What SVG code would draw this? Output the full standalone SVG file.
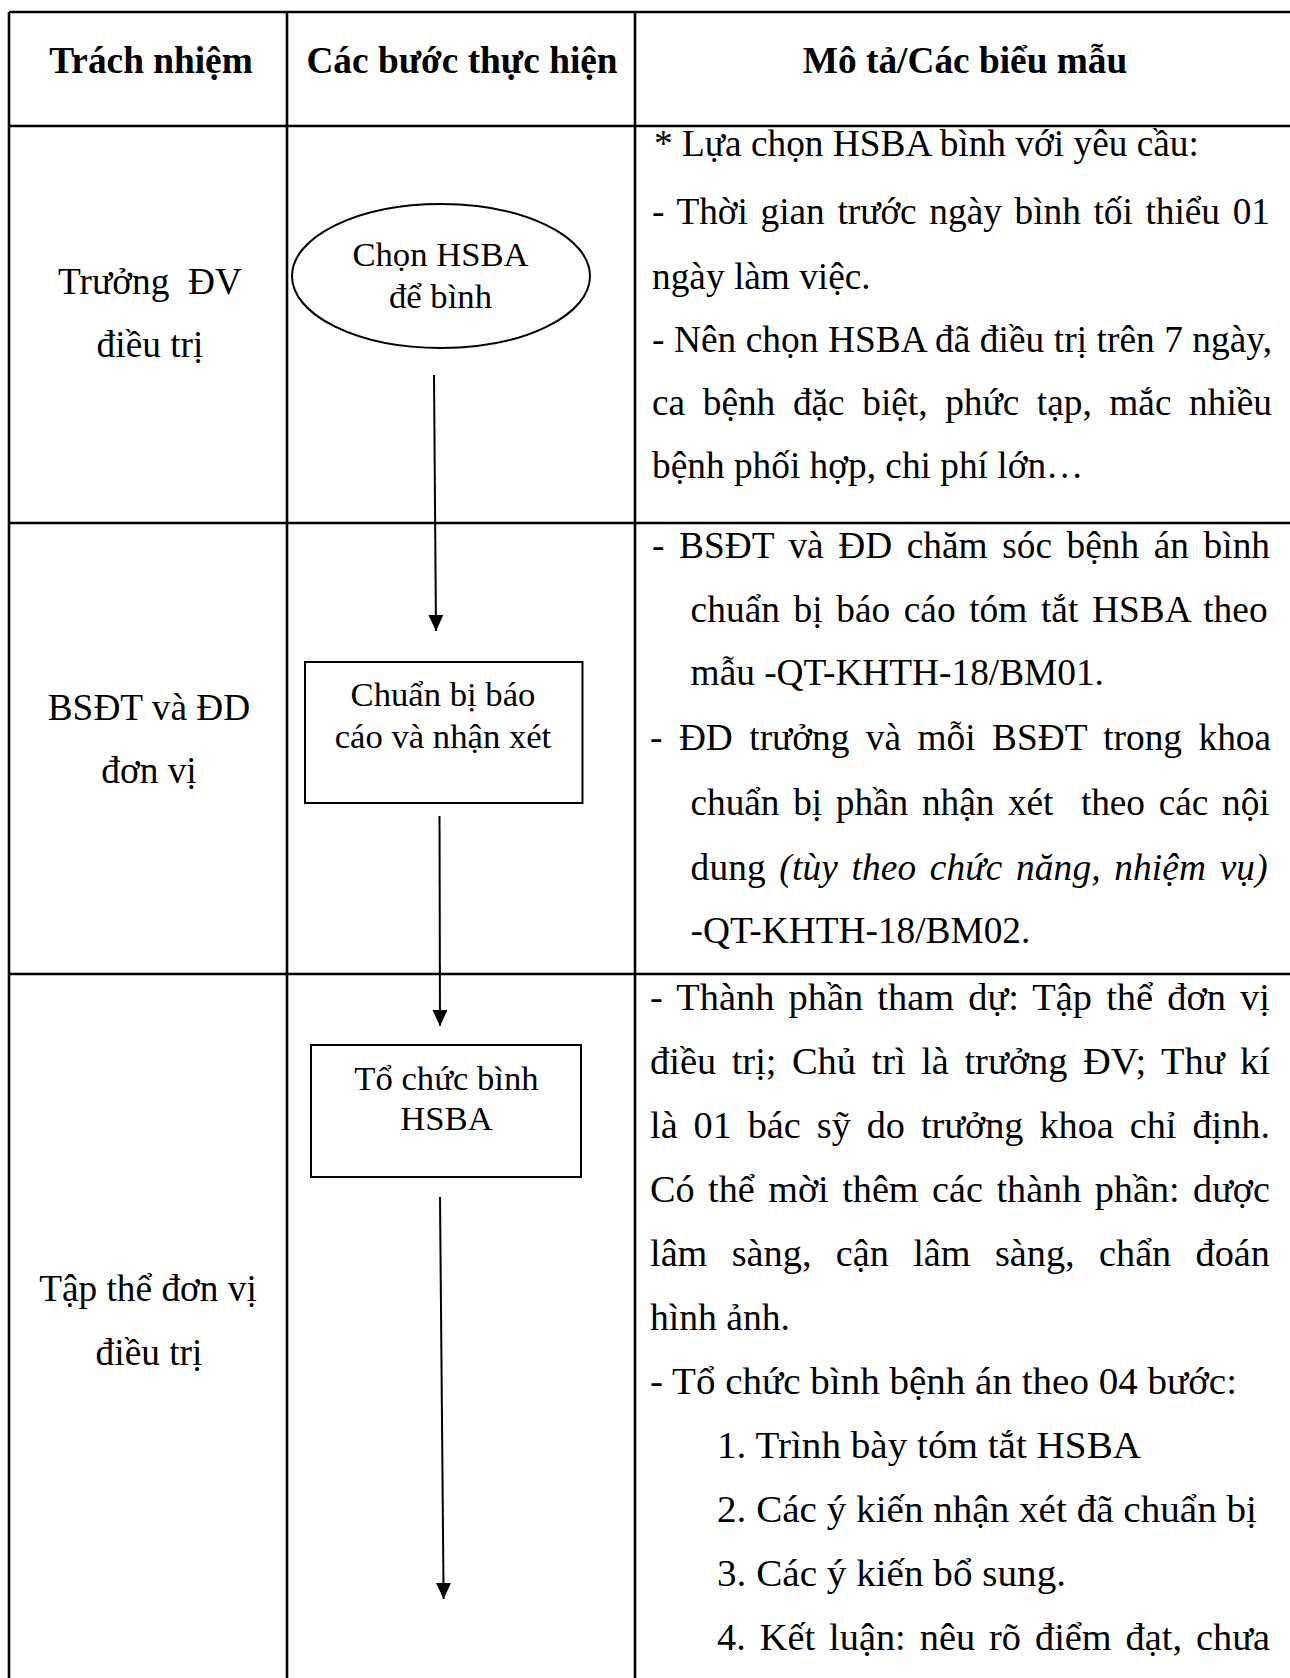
<svg xmlns="http://www.w3.org/2000/svg" width="1290" height="1678" viewBox="0 0 1290 1678">
<style>
  .grid{stroke:#000;stroke-width:2.6;fill:none}
  .node{stroke:#000;stroke-width:2;fill:#fff}
  .conn{stroke:#000;stroke-width:2;fill:none}
  text{font-family:"Liberation Serif","Times New Roman",serif;fill:#000}
  .hd{font-size:37.33px;font-weight:bold;text-anchor:middle}
  .lc{font-size:37.33px;text-anchor:middle}
  .nd{font-size:34.67px;text-anchor:middle}
  .bd{font-size:37.33px}
</style>
<defs>
  <marker id="ah" markerUnits="userSpaceOnUse" markerWidth="17" markerHeight="16" refX="16" refY="7.5" orient="auto">
    <path d="M0,0 L16,7.5 L0,15 z" fill="#000"/>
  </marker>
</defs>
<rect width="1290" height="1678" fill="#fff"/>
<g id="table">
  <line class="grid" x1="9" y1="12" x2="1290" y2="12"/>
  <line class="grid" x1="9" y1="126" x2="1290" y2="126"/>
  <line class="grid" x1="9" y1="523" x2="1290" y2="523"/>
  <line class="grid" x1="9" y1="974" x2="1290" y2="974"/>
  <line class="grid" x1="9" y1="12" x2="9" y2="1678"/>
  <line class="grid" x1="287" y1="12" x2="287" y2="1678"/>
  <line class="grid" x1="635" y1="12" x2="635" y2="1678"/>
</g>
<g id="header">
  <text class="hd" x="151" y="73">Trách nhiệm</text>
  <text class="hd" x="462" y="73">Các bước thực hiện</text>
  <text class="hd" x="965" y="73">Mô tả/Các biểu mẫu</text>
</g>
<g id="responsibility">
  <text class="lc" x="150" y="294" xml:space="preserve">Trưởng  ĐV</text>
  <text class="lc" x="150" y="357">điều trị</text>
  <text class="lc" x="149" y="720">BSĐT và ĐD</text>
  <text class="lc" x="149" y="783">đơn vị</text>
  <text class="lc" x="148" y="1301">Tập thể đơn vị</text>
  <text class="lc" x="149" y="1365">điều trị</text>
</g>
<g id="connectors">
  <line class="conn" x1="434" y1="375" x2="436" y2="631" marker-end="url(#ah)"/>
  <line class="conn" x1="439.5" y1="816" x2="440" y2="1026" marker-end="url(#ah)"/>
  <line class="conn" x1="440" y1="1197" x2="443.6" y2="1599" marker-end="url(#ah)"/>
</g>
<g id="node-chon">
  <ellipse class="node" cx="441" cy="276" rx="149" ry="72"/>
  <text class="nd" x="440.5" y="266">Chọn HSBA</text>
  <text class="nd" x="440.5" y="308">để bình</text>
</g>
<g id="node-chuanbi">
  <rect class="node" x="305" y="662" width="277.5" height="141"/>
  <text class="nd" x="443" y="706">Chuẩn bị báo</text>
  <text class="nd" x="443" y="748">cáo và nhận xét</text>
</g>
<g id="node-tochuc">
  <rect class="node" x="311" y="1045" width="270" height="132"/>
  <text class="nd" x="446.5" y="1090">Tổ chức bình</text>
  <text class="nd" x="446.5" y="1130">HSBA</text>
</g>
<g id="desc1">
  <text class="bd" x="654" y="156">* Lựa chọn HSBA bình với yêu cầu:</text>
  <text class="bd" x="652" y="224" word-spacing="3.4" textLength="618" lengthAdjust="spacing">- Thời gian trước ngày bình tối thiểu 01</text>
  <text class="bd" x="652" y="289">ngày làm việc.</text>
  <text class="bd" x="652" y="352" textLength="620" lengthAdjust="spacing">- Nên chọn HSBA đã điều trị trên 7 ngày,</text>
  <text class="bd" x="652" y="415" word-spacing="8.3" textLength="620" lengthAdjust="spacing">ca bệnh đặc biệt, phức tạp, mắc nhiều</text>
  <text class="bd" x="652" y="478">bệnh phối hợp, chi phí lớn…</text>
</g>
<g id="desc2">
  <text class="bd" x="652" y="558" word-spacing="5.2" textLength="618" lengthAdjust="spacing">- BSĐT và ĐD chăm sóc bệnh án bình</text>
  <text class="bd" x="690.6" y="622" word-spacing="4.1" textLength="577" lengthAdjust="spacing">chuẩn bị báo cáo tóm tắt HSBA theo</text>
  <text class="bd" x="690.6" y="685">mẫu -QT-KHTH-18/BM01.</text>
  <text class="bd" x="650" y="750" word-spacing="7.2" textLength="621" lengthAdjust="spacing">- ĐD trưởng và mỗi BSĐT trong khoa</text>
  <text class="bd" x="690.6" y="815" word-spacing="4.5" textLength="579" lengthAdjust="spacing" xml:space="preserve">chuẩn bị phần nhận xét  theo các nội</text>
  <text class="bd" x="690.6" y="880" word-spacing="4" textLength="577" lengthAdjust="spacing">dung <tspan font-style="italic">(tùy theo chức năng, nhiệm vụ)</tspan></text>
  <text class="bd" x="690.6" y="943">-QT-KHTH-18/BM02.</text>
</g>
<g id="desc3">
  <text class="bd" x="650" y="1010" word-spacing="4.4" textLength="620" lengthAdjust="spacingAndGlyphs">- Thành phần tham dự: Tập thể đơn vị</text>
  <text class="bd" x="650" y="1074" word-spacing="5.7" textLength="620" lengthAdjust="spacingAndGlyphs">điều trị; Chủ trì là trưởng ĐV; Thư kí</text>
  <text class="bd" x="650" y="1138" word-spacing="6.2" textLength="620" lengthAdjust="spacingAndGlyphs">là 01 bác sỹ do trưởng khoa chỉ định.</text>
  <text class="bd" x="650" y="1202" word-spacing="3.9" textLength="620" lengthAdjust="spacingAndGlyphs">Có thể mời thêm các thành phần: dược</text>
  <text class="bd" x="650" y="1266" word-spacing="14.4" textLength="620" lengthAdjust="spacingAndGlyphs">lâm sàng, cận lâm sàng, chẩn đoán</text>
  <text class="bd" x="650" y="1330" textLength="140" lengthAdjust="spacingAndGlyphs">hình ảnh.</text>
  <text class="bd" x="650" y="1394" textLength="587" lengthAdjust="spacingAndGlyphs">- Tổ chức bình bệnh án theo 04 bước:</text>
  <text class="bd" x="717" y="1458" textLength="424" lengthAdjust="spacingAndGlyphs">1. Trình bày tóm tắt HSBA</text>
  <text class="bd" x="717" y="1522" textLength="540" lengthAdjust="spacingAndGlyphs">2. Các ý kiến nhận xét đã chuẩn bị</text>
  <text class="bd" x="717" y="1586" textLength="349" lengthAdjust="spacingAndGlyphs">3. Các ý kiến bổ sung.</text>
  <text class="bd" x="717" y="1650" word-spacing="4.3" textLength="553" lengthAdjust="spacingAndGlyphs">4. Kết luận: nêu rõ điểm đạt, chưa</text>
</g>
</svg>
